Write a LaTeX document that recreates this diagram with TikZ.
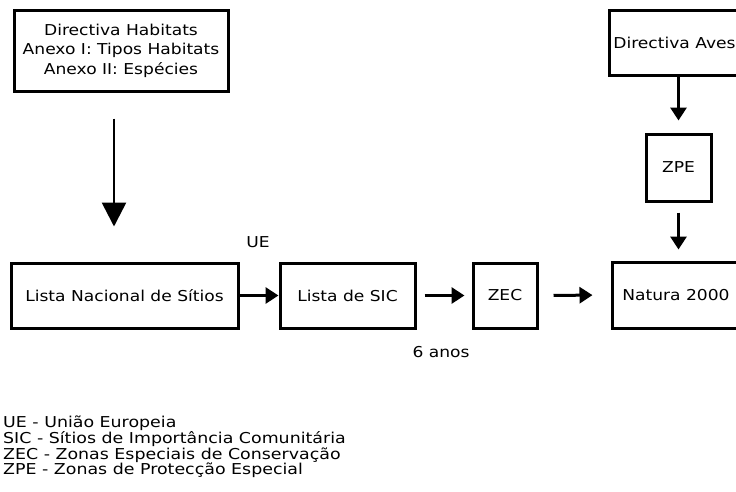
\documentclass[tikz,border=0pt]{standalone}
\usepackage{fontspec}
\setmainfont{DejaVu Sans}
\newfontfamily\diagfont[FakeStretch=1.14]{DejaVu Sans}
\newfontfamily\legfont[FakeStretch=1.16]{DejaVu Sans}
\usetikzlibrary{arrows.meta}
\tikzset{
  box/.style={draw, line width=3pt, inner sep=0pt, align=center, font=\diagfont\fontsize{15}{19.5}\selectfont},
  lbl/.style={inner sep=0pt, font=\diagfont\fontsize{15}{19}\selectfont},
  arr/.style={line width=3pt, -{Triangle[length=13pt,width=16pt]}},
  bigarr/.style={line width=2.6pt, -{Triangle[length=24pt,width=24pt]}},
}
\begin{document}
\begin{tikzpicture}[x=1pt,y=-1pt]
\useasboundingbox (0,0) rectangle (736,491);
\clip (0,0) rectangle (736,491);
\node[box, minimum width=214pt, minimum height=81pt] (habitats) at (121,50.5)
  {Directiva Habitats\\Anexo I: Tipos Habitats\\Anexo II: Espécies};
\node[box, minimum width=131pt, minimum height=65pt] (aves) at (674.5,42.5) {Directiva Aves};
\node[box, minimum width=65pt, minimum height=67pt] (zpe) at (678.5,167.5) {ZPE};
\node[box, minimum width=128pt, minimum height=66pt] (natura) at (676,295) {Natura 2000};
\node[box, minimum width=227pt, minimum height=65pt] (lnac) at (124.5,295.5) {Lista Nacional de Sítios};
\node[box, minimum width=135pt, minimum height=65pt] (sic) at (347.5,295.5) {Lista de SIC};
\node[box, minimum width=64pt, minimum height=65pt] (zec) at (505,295.5) {ZEC};
\node[lbl] (ue) at (258,242) {UE};
\node[lbl] (anos) at (441,352) {6 anos};
\node[lbl, anchor=north west, align=left, font=\legfont\fontsize{15}{15.6}\selectfont] (legend) at (3,416)
  {UE - União Europeia\\SIC - Sítios de Importância Comunitária\\ZEC - Zonas Especiais de Conservação\\ZPE - Zonas de Protecção Especial};
\draw[bigarr, shorten <=26pt, shorten >=35pt] ([xshift=-7pt]habitats.south) -- ([xshift=-7pt]habitats.south |- lnac.north);
\draw[arr, shorten >=12pt] (zpe.north |- aves.south) -- (zpe.north);
\draw[arr, shorten <=10pt, shorten >=11pt] (zpe.south) -- (zpe.south |- natura.north);
\draw[arr] (lnac.east) -- (sic.west);
\draw[arr, shorten <=8pt, shorten >=7pt] (sic.east) -- (zec.west);
\draw[arr, shorten <=15pt, shorten >=18pt] (zec.east) -- (natura.west);
\end{tikzpicture}
\end{document}
